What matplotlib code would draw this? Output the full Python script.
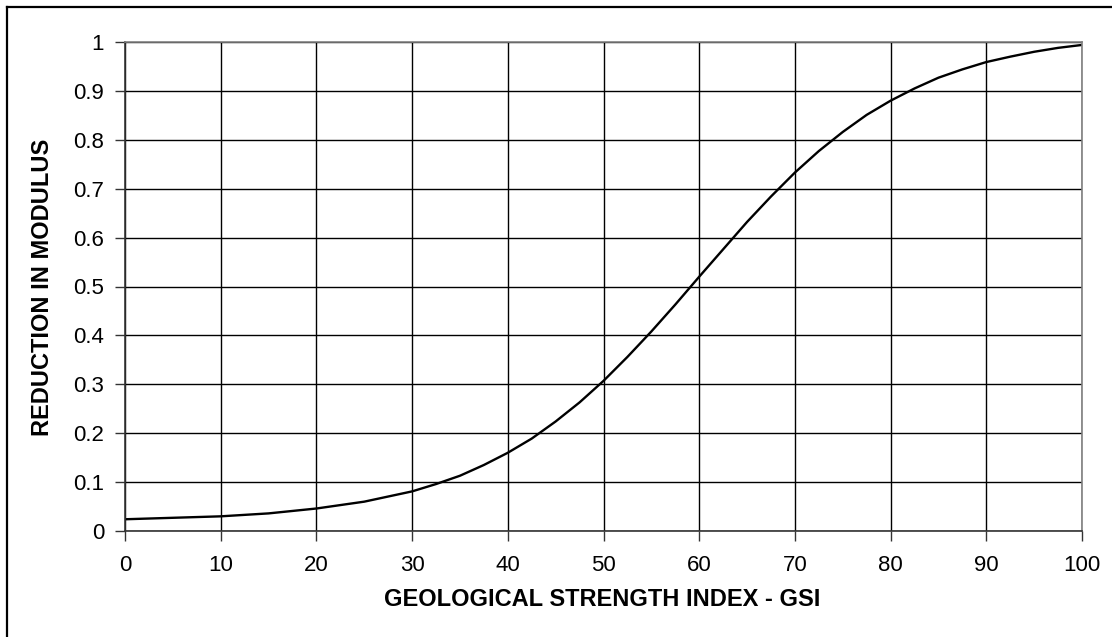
import matplotlib.pyplot as plt
from matplotlib.lines import Line2D

plt.rcParams['font.family'] = ['Liberation Sans', 'DejaVu Sans']

# Modulus reduction vs GSI
gsi = [0, 5, 10, 15, 20, 25, 30, 32.5, 35, 37.5, 40, 42.5, 45, 47.5, 50,
       52.5, 55, 57.5, 60, 62.5, 65, 67.5, 70, 72.5, 75, 77.5, 80, 82.5,
       85, 87.5, 90, 92.5, 95, 97.5, 100]
reduction = [0.024, 0.027, 0.030, 0.036, 0.046, 0.060, 0.081, 0.096, 0.113,
             0.135, 0.160, 0.189, 0.224, 0.263, 0.307, 0.356, 0.408, 0.463,
             0.520, 0.576, 0.632, 0.684, 0.733, 0.777, 0.816, 0.851, 0.880,
             0.905, 0.927, 0.944, 0.959, 0.970, 0.980, 0.988, 0.994]

xticks = list(range(0, 101, 10))
yticks = [0, 0.1, 0.2, 0.3, 0.4, 0.5, 0.6, 0.7, 0.8, 0.9, 1]
ytick_labels = ['0', '0.1', '0.2', '0.3', '0.4', '0.5', '0.6', '0.7', '0.8', '0.9', '1']

W, H = 1112, 637
fig = plt.figure(figsize=(W / 100, H / 100), dpi=100)
ax = fig.add_axes([125 / W, 1 - 531 / H, (1082 - 125) / W, (531 - 42) / H])

ax.plot(gsi, reduction, color='black', lw=1.7)

ax.set_xlim(0, 100)
ax.set_ylim(0, 1)
ax.set_xticks(xticks)
ax.set_yticks(yticks)
ax.set_yticklabels(ytick_labels)
ax.grid(True, color='black', lw=1.0)
ax.set_axisbelow(True)

ax.tick_params(axis='both', direction='out', length=7, width=1,
               labelsize=16, color='#333333')
ax.tick_params(axis='x', pad=10)
ax.tick_params(axis='y', pad=8)

for side in ['left', 'bottom']:
    ax.spines[side].set_color('#333333')
    ax.spines[side].set_linewidth(1.2)
for side in ['right', 'top']:
    ax.spines[side].set_color('#808080')
    ax.spines[side].set_linewidth(1.2)

# axis titles
fig.text(602 / W, 1 - 599 / H, 'GEOLOGICAL STRENGTH INDEX - GSI', fontsize=17,
         fontweight='bold', ha='center', va='center')
fig.text(43 / W, 1 - 287 / H, 'REDUCTION IN MODULUS', fontsize=17,
         fontweight='bold', ha='center', va='center', rotation=90)

# chart frame (left and top edges)
fig.add_artist(Line2D([7 / W, 7 / W], [0, 1 - 7 / H], color='black', lw=1.6,
                      transform=fig.transFigure))
fig.add_artist(Line2D([7 / W, 1], [1 - 7 / H, 1 - 7 / H], color='black', lw=1.6,
                      transform=fig.transFigure))

fig.savefig('out.png', dpi=100)
